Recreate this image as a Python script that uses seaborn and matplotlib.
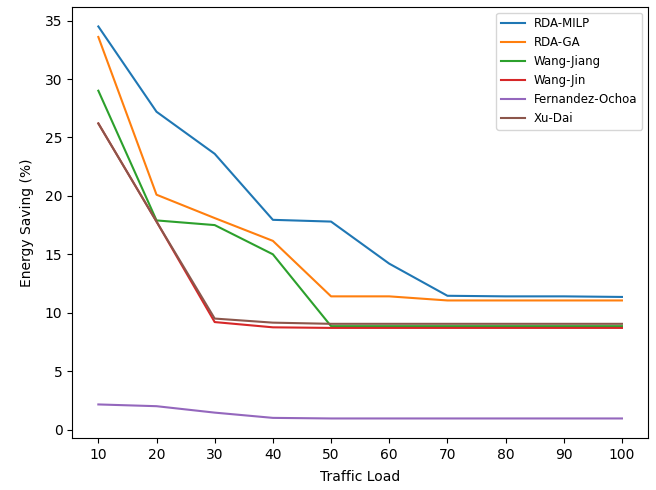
import matplotlib
matplotlib.use("Agg")
import matplotlib.pyplot as plt
import pandas as pd
import seaborn as sns

traffic_load = [10, 20, 30, 40, 50, 60, 70, 80, 90, 100]

rda_milp = [34.5, 27.2, 23.6, 17.95, 17.8, 14.2, 11.45, 11.4, 11.4, 11.35]
rda_ga = [33.6, 20.1, 18.1, 16.15, 11.4, 11.4, 11.05, 11.05, 11.05, 11.05]
wang_jiang = [29.0, 17.9, 17.5, 15.0, 8.85, 8.85, 8.85, 8.85, 8.85, 8.85]
wang_jin = [26.2, 17.8, 9.2, 8.75, 8.7, 8.7, 8.7, 8.7, 8.7, 8.7]
fernandez_ochoa = [2.15, 2.0, 1.45, 1.0, 0.95, 0.95, 0.95, 0.95, 0.95, 0.95]
xu_dai = [26.2, 17.8, 9.5, 9.15, 9.05, 9.05, 9.05, 9.05, 9.05, 9.05]

methods = ["RDA-MILP", "RDA-GA", "Wang-Jiang", "Wang-Jin", "Fernandez-Ochoa", "Xu-Dai"]
series = [rda_milp, rda_ga, wang_jiang, wang_jin, fernandez_ochoa, xu_dai]

df = pd.concat(
    [pd.DataFrame({"Traffic Load": traffic_load, "Energy Saving (%)": vals, "method": name})
     for name, vals in zip(methods, series)],
    ignore_index=True,
)

fig, ax = plt.subplots(figsize=(6.56, 4.9), dpi=100)
fig.subplots_adjust(left=0.11, right=0.988, top=0.986, bottom=0.106)

sns.lineplot(
    data=df,
    x="Traffic Load",
    y="Energy Saving (%)",
    hue="method",
    hue_order=methods,
    palette="tab10",
    linewidth=1.5,
    ax=ax,
)

ax.set_xticks(traffic_load)
ax.set_xlabel("Traffic Load", labelpad=6)
ax.set_ylabel("Energy Saving (%)", labelpad=8)
ax.legend(loc="upper right", fontsize=8.5)

plt.savefig("out.png", dpi=100)
